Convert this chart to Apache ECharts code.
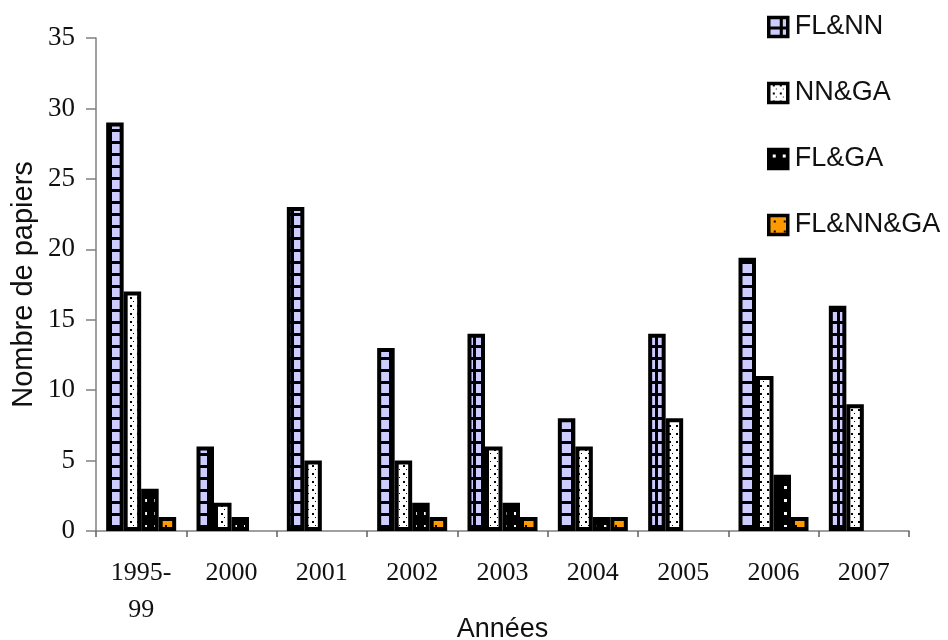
<!DOCTYPE html>
<html>
<head>
<meta charset="utf-8">
<script src="https://cdn.jsdelivr.net/npm/echarts@6/dist/echarts.min.js"></script>
<style>
  html, body { margin: 0; padding: 0; background: #fff; }
  #chart { width: 948px; height: 640px; }
</style>
</head>
<body>
<div id="chart"></div>
<script>
// Number of papers per year, by combination of techniques
const years = ['1995-\n99', '2000', '2001', '2002', '2003', '2004', '2005', '2006', '2007'];
const seriesNames = ['FL&NN', 'NN&GA', 'FL&GA', 'FL&NN&GA'];
const flNN   = [29, 6, 23, 13, 14, 8, 14, 19.4, 16];
const nnGA   = [17, 2, 5, 5, 6, 6, 8, 11, 9];
const flGA   = [3, 1, '-', 2, 2, 1, '-', 4, '-'];
const flNNGA = [1, '-', '-', 1, 1, 1, '-', 1, '-'];
const yTicks = { min: 0, max: 35, interval: 5 };

// Small repeating fill patterns for the bars
function tile(w, h, draw) {
  const c = document.createElement('canvas');
  c.width = w; c.height = h;
  draw(c.getContext('2d'), w, h);
  return { image: c, repeat: 'repeat' };
}
const patGrid = tile(14, 12, (g, w, h) => {
  g.fillStyle = '#000'; g.fillRect(0, 0, w, h);
  g.fillStyle = '#ccccff'; g.fillRect(0, 0, 11, 9);
});
const patDots = tile(7, 8, (g, w, h) => {
  g.fillStyle = '#fff'; g.fillRect(0, 0, w, h);
  g.fillStyle = '#000'; g.fillRect(4, 1, 2, 2); g.fillRect(0, 5, 1, 1);
});
const patBlack = tile(10, 13, (g, w, h) => {
  g.fillStyle = '#000'; g.fillRect(0, 0, w, h);
  g.fillStyle = '#fff'; g.fillRect(4, 5, 3, 3);
});
const patOrange = tile(10, 10, (g, w, h) => {
  g.fillStyle = '#ff9900'; g.fillRect(0, 0, w, h);
  g.fillStyle = '#000'; g.fillRect(5, 5, 2, 2);
});

const fills = [patGrid, patDots, patBlack, patOrange];
const values = [flNN, nnGA, flGA, flNNGA];

const chart = echarts.init(document.getElementById('chart'), null, { renderer: 'canvas' });
chart.setOption({
  animation: false,
  backgroundColor: '#fff',
  grid: { left: 96, right: 39, top: 38, bottom: 109, containLabel: false, outerBoundsMode: 'none' },
  legend: {
    orient: 'vertical',
    left: 767,
    top: 13,
    padding: 0,
    icon: 'rect',
    itemWidth: 19,
    itemHeight: 19,
    itemGap: 38,
    itemStyle: { borderColor: '#000', borderWidth: 3.5 },
    textStyle: { fontFamily: 'Liberation Sans', fontSize: 27, color: '#111', lineHeight: 28, padding: [0, 0, 0, 2] },
    data: seriesNames
  },
  xAxis: {
    type: 'category',
    data: years,
    name: 'Années',
    nameLocation: 'middle',
    nameGap: 85,
    nameMoveOverlap: false,
    nameTextStyle: { fontFamily: 'Liberation Sans', fontSize: 27, color: '#111' },
    axisLine: { lineStyle: { color: '#808080', width: 1.5 } },
    axisTick: { show: true, length: 6, alignWithLabel: false, lineStyle: { color: '#606060', width: 1.5 } },
    axisLabel: { fontFamily: 'Liberation Serif', fontSize: 26, color: '#111', margin: 24, lineHeight: 37, interval: 0 }
  },
  yAxis: {
    type: 'value',
    min: yTicks.min, max: yTicks.max, interval: yTicks.interval,
    name: 'Nombre de papiers',
    nameLocation: 'middle',
    nameGap: 58,
    nameRotate: 90,
    nameMoveOverlap: false,
    nameTextStyle: { fontFamily: 'Liberation Sans', fontSize: 29, color: '#111' },
    splitLine: { show: false },
    axisLine: { show: true, lineStyle: { color: '#808080', width: 1.5 } },
    axisTick: { show: true, length: 10, lineStyle: { color: '#808080', width: 1.5 } },
    axisLabel: { fontFamily: 'Liberation Serif', fontSize: 27, color: '#111', margin: 21 }
  },
  series: seriesNames.map((name, i) => ({
    name,
    type: 'bar',
    data: values[i],
    barWidth: 17.5,
    barGap: '0%',
    barCategoryGap: '22%',
    itemStyle: { color: fills[i], borderColor: '#000', borderWidth: 4 }
  }))
});
</script>
</body>
</html>
